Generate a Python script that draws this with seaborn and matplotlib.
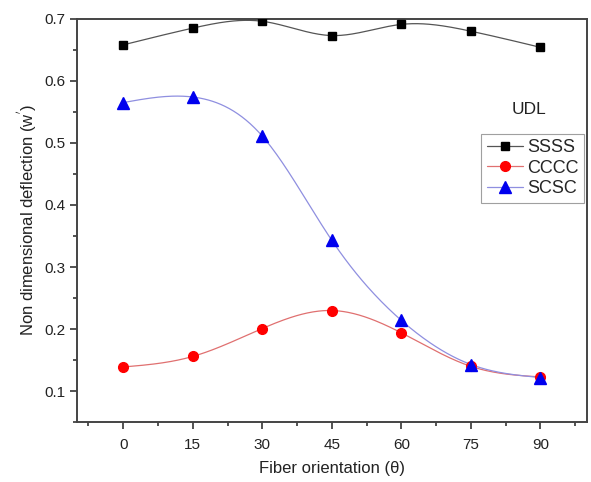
import numpy as np
import pandas as pd
import matplotlib
matplotlib.use("Agg")
import matplotlib.pyplot as plt
import seaborn as sns
from matplotlib.ticker import MultipleLocator
from matplotlib.lines import Line2D

angles = [0, 15, 30, 45, 60, 75, 90]
ssss = [0.658, 0.685, 0.696, 0.673, 0.691, 0.680, 0.654]
cccc = [0.139, 0.156, 0.201, 0.230, 0.194, 0.140, 0.123]
scsc = [0.565, 0.574, 0.511, 0.343, 0.214, 0.143, 0.122]
series_names = ["SSSS", "CCCC", "SCSC"]
x_ticks = [0, 15, 30, 45, 60, 75, 90]
y_ticks = [0.1, 0.2, 0.3, 0.4, 0.5, 0.6, 0.7]


def natural_spline(x, y, n=300):
    x = np.asarray(x, float)
    y = np.asarray(y, float)
    k = len(x)
    h = np.diff(x)
    A = np.zeros((k, k))
    b = np.zeros(k)
    A[0, 0] = 1
    A[-1, -1] = 1
    for i in range(1, k - 1):
        A[i, i - 1] = h[i - 1]
        A[i, i] = 2 * (h[i - 1] + h[i])
        A[i, i + 1] = h[i]
        b[i] = 6 * ((y[i + 1] - y[i]) / h[i] - (y[i] - y[i - 1]) / h[i - 1])
    M = np.linalg.solve(A, b)
    xs = np.linspace(x[0], x[-1], n)
    idx = np.clip(np.searchsorted(x, xs) - 1, 0, k - 2)
    x0, x1 = x[idx], x[idx + 1]
    hh = x1 - x0
    ys = (M[idx] * (x1 - xs) ** 3 / (6 * hh) + M[idx + 1] * (xs - x0) ** 3 / (6 * hh)
          + (y[idx] / hh - M[idx] * hh / 6) * (x1 - xs)
          + (y[idx + 1] / hh - M[idx + 1] * hh / 6) * (xs - x0))
    return xs, ys


sns.set_theme(style="white")
plt.rcParams["font.family"] = ["Liberation Sans", "DejaVu Sans"]

fig = plt.figure(figsize=(5.91, 4.82), dpi=100)
ax = fig.add_axes([0.130, 0.124, 0.863, 0.837])

styles = {
    "SSSS": dict(mc="black", lc="#555555", marker="s", ms=6),
    "CCCC": dict(mc="#ff0000", lc="#e07070", marker="o", ms=7),
    "SCSC": dict(mc="#0000ee", lc="#8f8fe0", marker="^", ms=8),
}
data = {"SSSS": ssss, "CCCC": cccc, "SCSC": scsc}

handles = []
for name in series_names:
    st = styles[name]
    xs, ys = natural_spline(angles, data[name])
    sns.lineplot(x=xs, y=ys, ax=ax, color=st["lc"], linewidth=0.9, sort=False)
    df = pd.DataFrame({"angle": angles, "val": data[name]})
    ax.plot(df["angle"], df["val"], linestyle="none", marker=st["marker"],
            markersize=st["ms"], color=st["mc"], markeredgecolor=st["mc"], zorder=5)
    handles.append(Line2D([0], [0], color=st["lc"], linewidth=0.9, marker=st["marker"],
                          markersize=st["ms"], markerfacecolor=st["mc"],
                          markeredgecolor=st["mc"], label=name))

ax.set_xlim(-10, 100)
ax.set_ylim(0.05, 0.7)
ax.set_xticks(x_ticks)
ax.set_yticks(y_ticks)
ax.set_yticklabels([f"{v:.1f}" for v in y_ticks])
ax.xaxis.set_minor_locator(MultipleLocator(7.5))
ax.yaxis.set_minor_locator(MultipleLocator(0.05))
ax.tick_params(axis="both", which="major", direction="out", length=5, width=1.3,
               color="#444444", labelsize=11, labelcolor="#222222", pad=3,
               bottom=True, left=True, top=False, right=False)
ax.tick_params(axis="both", which="minor", direction="out", length=3, width=1.3,
               color="#444444", bottom=True, left=True, top=False, right=False)
ax.tick_params(axis="x", which="major", pad=6)
for sp in ax.spines.values():
    sp.set_color("#444444")
    sp.set_linewidth(1.4)

ax.set_xlabel("Fiber orientation (\u03b8)", fontsize=12, color="#222222", labelpad=7)
ax.set_ylabel("Non dimensional deflection (w$^{'}$)", fontsize=12, color="#222222", labelpad=4)

ax.text(0.887, 0.775, "UDL", transform=ax.transAxes, fontsize=12.5, color="#222222",
        ha="center", va="center")
leg = ax.legend(handles=handles, loc="upper right", bbox_to_anchor=(0.995, 0.715),
                fontsize=13, frameon=True, fancybox=False, handlelength=2.0,
                handletextpad=0.25, borderpad=0.3, labelspacing=0.2, borderaxespad=0)
leg.get_frame().set_edgecolor("#888888")
leg.get_frame().set_linewidth(0.8)

fig.savefig("out.png", dpi=100)
